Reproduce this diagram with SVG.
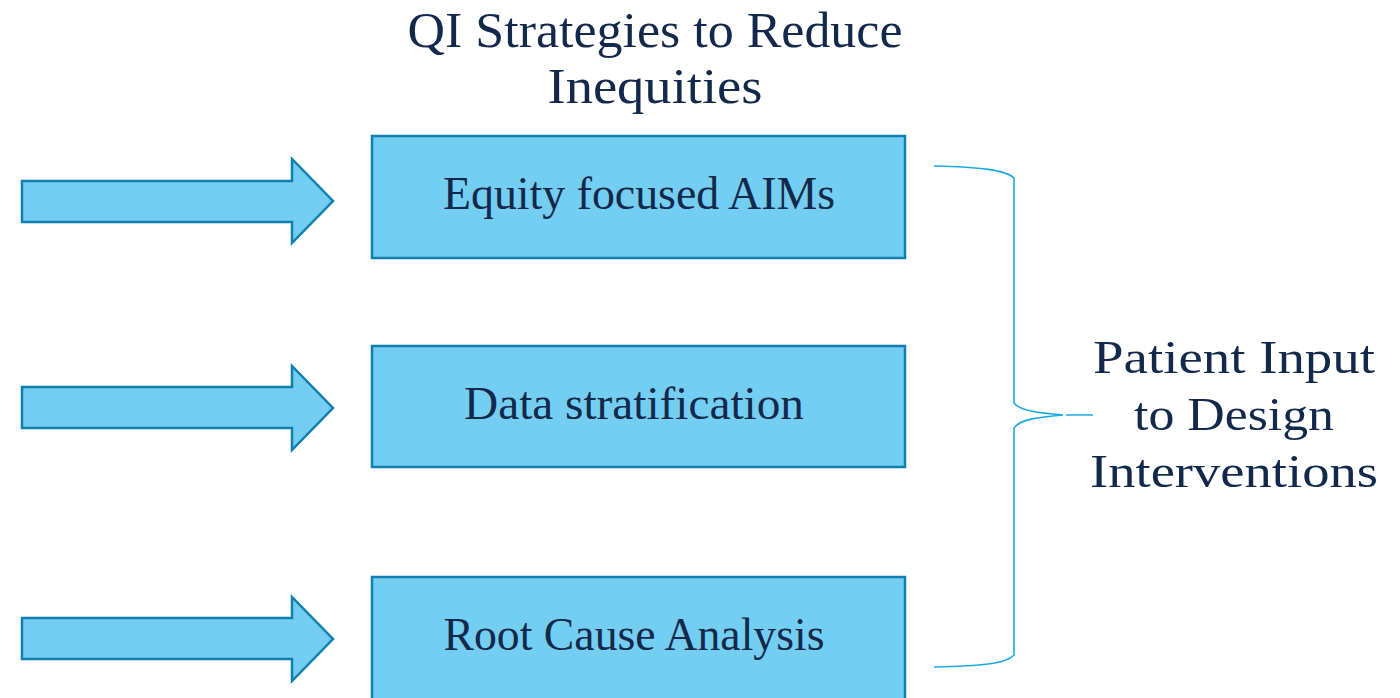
<svg xmlns="http://www.w3.org/2000/svg" width="1400" height="698" viewBox="0 0 1400 698">
<style>
.shape{fill:#74CEF2;stroke:#107FAE;stroke-width:2.5}
.t{font-family:"Liberation Serif","Times New Roman",serif;fill:#13294B;text-anchor:middle}
.box{font-size:46px}
.title{font-size:51px}
.brace{fill:none;stroke:#1AAAE2;stroke-width:1.6}
</style>
<rect width="1400" height="698" fill="#ffffff"/>
<g id="title">
<text class="t title" x="655" y="47" textLength="495" lengthAdjust="spacingAndGlyphs">QI Strategies to Reduce</text>
<text class="t title" x="655" y="103" textLength="215" lengthAdjust="spacingAndGlyphs">Inequities</text>
</g>
<g id="arrow1"><path class="shape" d="M22,181 H292 V159 L333,201 L292,243 V222 H22 Z"/></g>
<g id="arrow2"><path class="shape" d="M22,387 H292 V366 L333,408 L292,450 V428 H22 Z"/></g>
<g id="arrow3"><path class="shape" d="M22,618 H292 V597 L333,639 L292,681 V659 H22 Z"/></g>
<g id="box1">
<rect class="shape" x="372" y="136" width="533" height="122"/>
<text class="t box" x="639" y="209" textLength="392" lengthAdjust="spacingAndGlyphs">Equity focused AIMs</text>
</g>
<g id="box2">
<rect class="shape" x="372" y="346" width="533" height="121"/>
<text class="t box" x="634" y="419" textLength="340" lengthAdjust="spacingAndGlyphs">Data stratification</text>
</g>
<g id="box3">
<rect class="shape" x="372" y="577" width="533" height="130"/>
<text class="t box" x="634" y="650" textLength="381" lengthAdjust="spacingAndGlyphs">Root Cause Analysis</text>
</g>
<g id="connectors">
<path class="brace" d="M934,166 C980,167 1006,170 1014,178 V403 C1020,411 1040,413 1063,415 M1066,415 H1093 M1063,415 C1040,417 1020,419 1014,428 V655 C1006,664 980,666 934,667"/>
</g>
<g id="patient">
<text class="t box" x="1234" y="373" textLength="282" lengthAdjust="spacingAndGlyphs">Patient Input</text>
<text class="t box" x="1234" y="430" textLength="200" lengthAdjust="spacingAndGlyphs">to Design</text>
<text class="t box" x="1234" y="487" textLength="288" lengthAdjust="spacingAndGlyphs">Interventions</text>
</g>
</svg>
